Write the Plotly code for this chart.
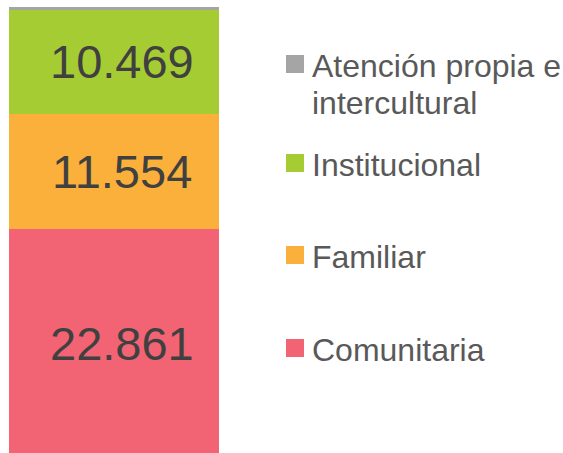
import plotly.graph_objects as go

# ---- data ----
categories = ["Comunitaria", "Familiar", "Institucional", "Atención propia e<br>intercultural"]
values = [22861, 11554, 10469, 250]
colors = ["#F26474", "#FBB03B", "#A5CD33", "#A5A5A5"]
show_label = [True, True, True, False]

W, H = 563, 453
fig = go.Figure()
for cat, v, c in zip(categories, values, colors):
    fig.add_trace(go.Bar(
        x=[0], y=[v], name=cat, marker=dict(color=c, line=dict(width=0)),
        width=1, showlegend=False, hoverinfo="skip"))

# value labels
cum = 0
for cat, v, s in zip(categories, values, show_label):
    if s:
        fig.add_annotation(x=0, y=cum + v / 2, xref="x", yref="y",
                           text=f"{v:,}".replace(",", "."), showarrow=False,
                           xshift=8, font=dict(family="Liberation Sans", size=47, color="#404040"))
    cum += v

# legend drawn manually (top item = last series)
legend_centers = [64, 163, 255, 348][::-1]  # px from top
for cat, c, cy in zip(categories, colors, legend_centers):
    fig.add_shape(type="rect", xref="paper", yref="paper",
                  x0=286 / W, x1=304 / W, y0=1 - (cy + 9) / H, y1=1 - (cy - 9) / H,
                  fillcolor=c, line=dict(width=0))
    for i, line in enumerate(cat.split("<br>")):
        fig.add_annotation(x=310 / W, y=1 - (cy + 2 + i * 37) / H, xref="paper", yref="paper",
                           text=line, showarrow=False, xanchor="left", yanchor="middle",
                           font=dict(family="Liberation Sans", size=32, color="#595959"))

fig.update_layout(
    width=W, height=H, barmode="stack", bargap=0,
    margin=dict(l=0, r=0, t=0, b=0),
    paper_bgcolor="white", plot_bgcolor="white",
    xaxis=dict(domain=[9 / W, 219 / W], range=[-0.5, 0.5], visible=False, fixedrange=True),
    yaxis=dict(range=[400, 45837], visible=False, fixedrange=True),
)
fig.write_html("out.html", config={"displayModeBar": False},
               post_script="document.body.style.margin='0';document.body.style.overflow='hidden';")
